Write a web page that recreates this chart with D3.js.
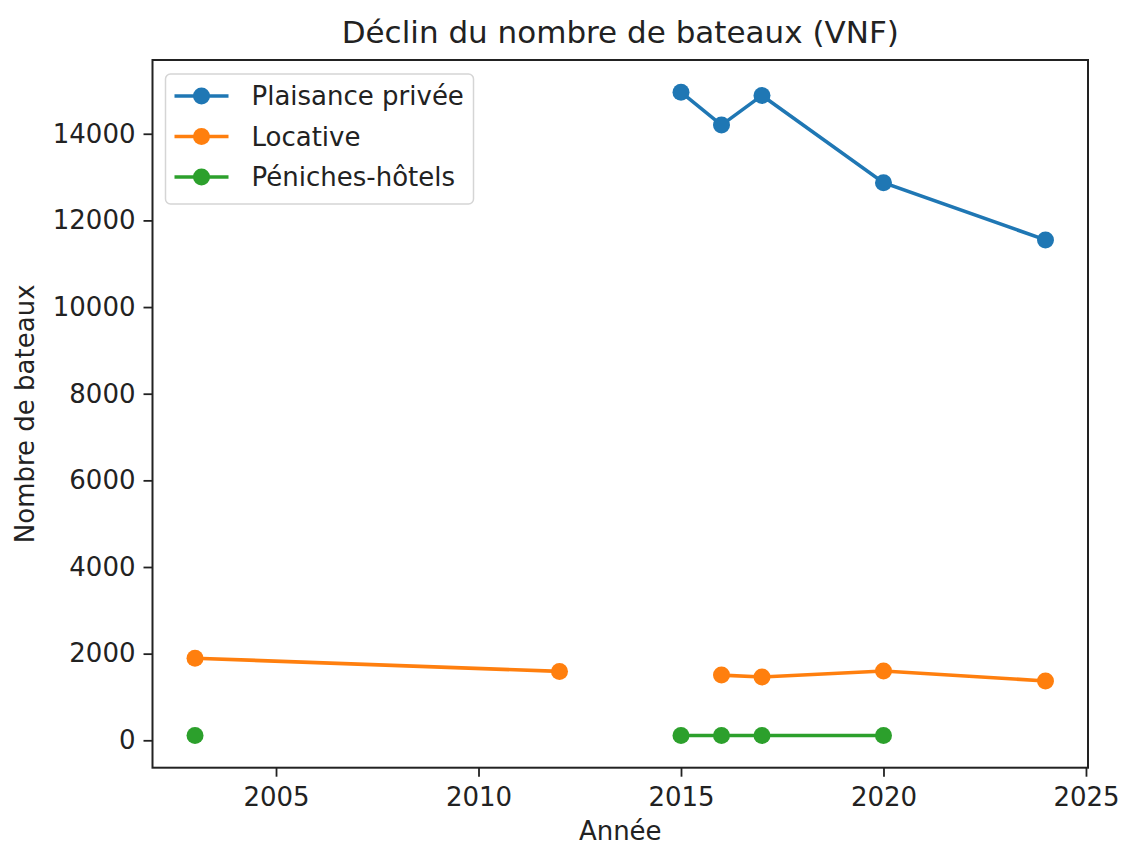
<!DOCTYPE html>
<html lang="fr">
<head>
    <meta charset="UTF-8">
    <title>Déclin du nombre de bateaux (VNF)</title>
    <script src="https://d3js.org/d3.v7.min.js"></script>
    <style>
        body {
            margin: 0;
            background: white;
            font-family: "DejaVu Sans", sans-serif;
        }
        .tick text {
            font-family: "DejaVu Sans", sans-serif;
            font-size: 26px;
            fill: #222;
        }
        .tick line, .domain {
            stroke: #222;
        }
    </style>
</head>
<body>
    <svg width="1122" height="845"></svg>
    <script>
        // years of the survey, null = no value for that series
        const years = [2003, 2012, 2015, 2016, 2017, 2020, 2024];
        const plaisancePrivee = [null, null, 14960, 14200, 14885, 12870, 11550];
        const locative = [1895, 1590, null, 1505, 1460, 1600, 1370];
        const penichesHotels = [110, null, 110, 110, 110, 110, null];

        const seriesNames = ["Plaisance privée", "Locative", "Péniches-hôtels"];
        const seriesColors = ["#1f77b4", "#ff7f0e", "#2ca02c"];
        const xTicks = [2005, 2010, 2015, 2020, 2025];
        const yTicks = [0, 2000, 4000, 6000, 8000, 10000, 12000, 14000];

        const svg = d3.select("svg");
        const plotLeft = 152.5, plotRight = 1088, plotTop = 60, plotBottom = 767.7;

        const allSeries = [plaisancePrivee, locative, penichesHotels];
        const allValues = allSeries.flat().filter(v => v !== null);

        // matplotlib style 5% margins
        const xPad = (d3.max(years) - d3.min(years)) * 0.05;
        const x = d3.scaleLinear()
            .domain([d3.min(years) - xPad, d3.max(years) + xPad])
            .range([plotLeft, plotRight]);

        const yPad = (d3.max(allValues) - d3.min(allValues)) * 0.05;
        const y = d3.scaleLinear()
            .domain([d3.min(allValues) - yPad, d3.max(allValues) + yPad])
            .range([plotBottom, plotTop]);

        // axes
        svg.append("g")
            .attr("transform", `translate(0, ${plotBottom})`)
            .call(d3.axisBottom(x)
                .tickValues(xTicks)
                .tickFormat(d3.format("d"))
                .tickSize(9)
                .tickPadding(11))
            .call(g => g.select(".domain").remove())
            .selectAll("line").attr("stroke-width", 1.8);

        svg.append("g")
            .attr("transform", `translate(${plotLeft}, 0)`)
            .call(d3.axisLeft(y)
                .tickValues(yTicks)
                .tickFormat(d3.format("d"))
                .tickSize(9)
                .tickPadding(8))
            .call(g => g.select(".domain").remove())
            .selectAll("line").attr("stroke-width", 1.8);

        // lines and markers
        const line = d3.line()
            .defined(d => d.v !== null)
            .x(d => x(d.year))
            .y(d => y(d.v));

        allSeries.forEach((values, i) => {
            const pts = years.map((year, j) => ({ year: year, v: values[j] }));
            const g = svg.append("g");
            g.append("path")
                .datum(pts)
                .attr("d", line)
                .attr("fill", "none")
                .attr("stroke", seriesColors[i])
                .attr("stroke-width", 3.6);
            g.selectAll("circle")
                .data(pts.filter(d => d.v !== null))
                .enter().append("circle")
                .attr("cx", d => x(d.year))
                .attr("cy", d => y(d.v))
                .attr("r", 8.5)
                .attr("fill", seriesColors[i]);
        });

        // frame
        svg.append("rect")
            .attr("x", plotLeft)
            .attr("y", plotTop)
            .attr("width", plotRight - plotLeft)
            .attr("height", plotBottom - plotTop)
            .attr("fill", "none")
            .attr("stroke", "#222")
            .attr("stroke-width", 2);

        // legend
        const legend = svg.append("g")
            .attr("transform", `translate(${plotLeft + 13}, ${plotTop + 14})`);

        legend.append("rect")
            .attr("width", 308)
            .attr("height", 130)
            .attr("rx", 5)
            .attr("fill", "white")
            .attr("fill-opacity", 0.8)
            .attr("stroke", "#d5d5d5")
            .attr("stroke-width", 1.5);

        seriesNames.forEach((name, i) => {
            const row = legend.append("g")
                .attr("transform", `translate(0, ${22 + i * 40.5})`);
            row.append("line")
                .attr("x1", 9)
                .attr("x2", 63)
                .attr("stroke", seriesColors[i])
                .attr("stroke-width", 3.6);
            row.append("circle")
                .attr("cx", 36)
                .attr("r", 8.5)
                .attr("fill", seriesColors[i]);
            row.append("text")
                .attr("x", 86)
                .attr("dy", "0.35em")
                .style("font-size", "26px")
                .style("fill", "#222")
                .text(name);
        });

        // titles
        svg.append("text")
            .attr("x", (plotLeft + plotRight) / 2)
            .attr("y", 43)
            .attr("text-anchor", "middle")
            .style("font-size", "31px")
            .style("fill", "#222")
            .text("Déclin du nombre de bateaux (VNF)");

        svg.append("text")
            .attr("x", (plotLeft + plotRight) / 2)
            .attr("y", 840)
            .attr("text-anchor", "middle")
            .style("font-size", "26px")
            .style("fill", "#222")
            .text("Année");

        svg.append("text")
            .attr("transform", `translate(34, ${(plotTop + plotBottom) / 2}) rotate(-90)`)
            .attr("text-anchor", "middle")
            .style("font-size", "26px")
            .style("fill", "#222")
            .text("Nombre de bateaux");
    </script>
</body>
</html>
